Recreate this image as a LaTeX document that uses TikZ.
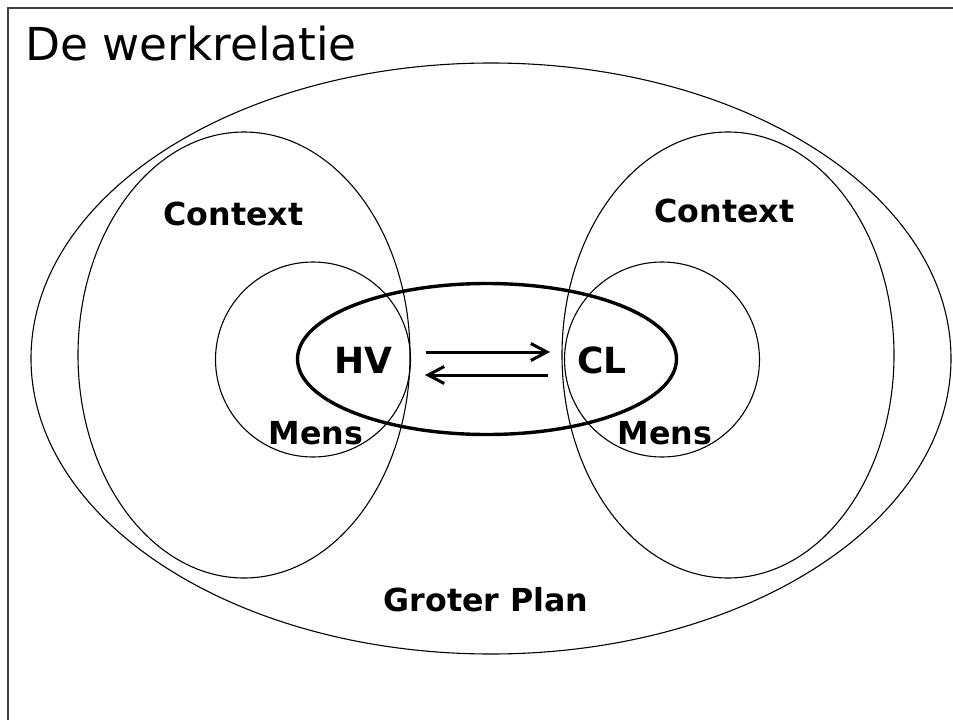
\documentclass[tikz,border=0pt]{standalone}
\usepackage{fontspec}
\setmainfont{DejaVu Sans}
\usetikzlibrary{shapes.geometric,arrows.meta}
\begin{document}
\begin{tikzpicture}[x=1pt,y=-1pt,
  thin line/.style={draw=black,line width=1.1pt},
  oval/.style={ellipse,thin line,inner sep=0pt,outer sep=0pt},
  lbl/.style={font=\fontsize{31.7}{34}\selectfont\bfseries,inner sep=0pt},
  big lbl/.style={font=\fontsize{36}{39}\selectfont\bfseries,inner sep=0pt},
  relarrow/.style={line width=3pt,-{Straight Barb[length=16pt,width=17pt,line width=3pt]}}]
\useasboundingbox (0,0) rectangle (953,720);
\fill[white] (0,0) rectangle (953,720);
\draw[line width=1.6pt,draw=black!75] (8,720) -- (8,8) -- (953,8);
\node[anchor=base west,inner sep=0pt,font=\fontsize{45.4}{50}\selectfont] (title) at (25,60) {De werkrelatie};
% shapes
\node[oval,minimum width=920pt,minimum height=591pt] (plan) at (491,358.5) {};
\node[oval,minimum width=332pt,minimum height=446pt] (ctxL) at (244,355) {};
\node[oval,minimum width=332pt,minimum height=446pt] (ctxR) at (728,355) {};
\node[oval,circle,minimum size=195pt] (mensL) at (313,359.5) {};
\node[oval,circle,minimum size=195pt] (mensR) at (662,359.5) {};
\node[ellipse,draw=black,line width=3.4pt,inner sep=0pt,minimum width=379pt,minimum height=151pt] (rel) at (487,359) {};
% labels
\node[lbl] (ctxLt) at (233.5,214) {Context};
\node[lbl] (ctxRt) at (724.5,210.5) {Context};
\node[big lbl] (hv) at (363,360) {HV};
\node[big lbl] (cl) at (602,360) {CL};
\node[lbl] (mensLt) at (316,433) {Mens};
\node[lbl] (mensRt) at (665,433) {Mens};
\node[lbl] (plant) at (486,600) {Groter Plan};
% arrows
\coordinate (a1s) at (426,352);
\coordinate (a1e) at (550,352);
\coordinate (a2s) at (548,375);
\coordinate (a2e) at (425,375);
\draw[relarrow] (a1s) -- (a1e);
\draw[relarrow] (a2s) -- (a2e);
\end{tikzpicture}
\end{document}
